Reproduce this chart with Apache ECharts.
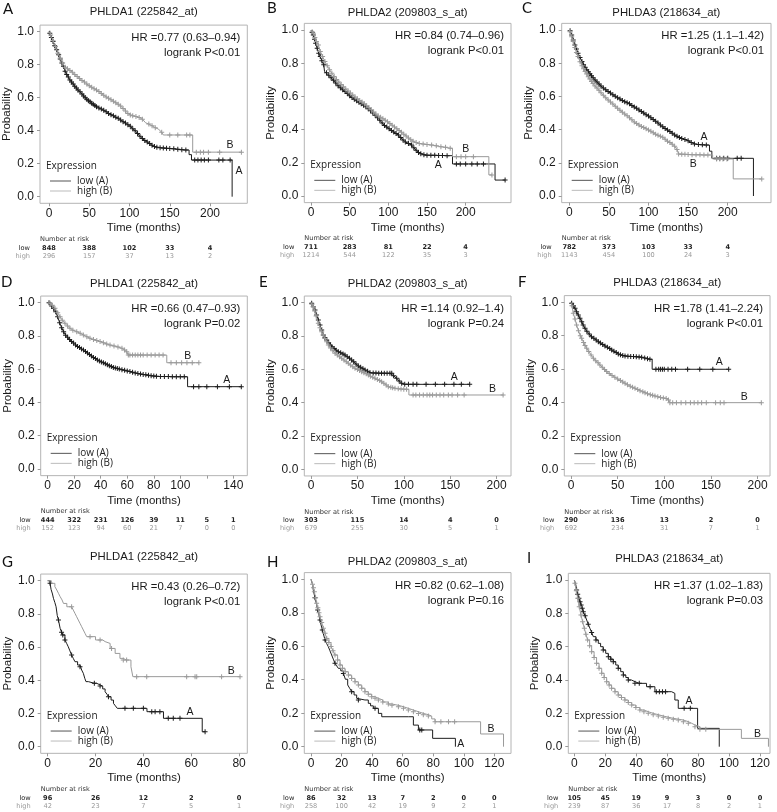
<!DOCTYPE html>
<html><head><meta charset="utf-8">
<script src="https://cdn.jsdelivr.net/npm/echarts@6/dist/echarts.min.js"></script>
<style>html,body{margin:0;padding:0;background:#fff}#c{width:777px;height:812px}</style>
</head><body><div id="c"></div>
<script>
// ---------------- data ----------------
const panelLetters = ['A','B','C','D','E','F','G','H','I'];
const titles = ['PHLDA1 (225842_at)','PHLDA2 (209803_s_at)','PHLDA3 (218634_at)',
                'PHLDA1 (225842_at)','PHLDA2 (209803_s_at)','PHLDA3 (218634_at)',
                'PHLDA1 (225842_at)','PHLDA2 (209803_s_at)','PHLDA3 (218634_at)'];
const hrTexts = ['HR =0.77 (0.63\u20130.94)','HR =0.84 (0.74\u20130.96)','HR =1.25 (1.1\u20131.42)',
                 'HR =0.66 (0.47\u20130.93)','HR =1.14 (0.92\u20131.4)','HR =1.78 (1.41\u20132.24)',
                 'HR =0.43 (0.26\u20130.72)','HR =0.82 (0.62\u20131.08)','HR =1.37 (1.02\u20131.83)'];
const pTexts = ['logrank P<0.01','logrank P<0.01','logrank P<0.01',
                'logrank P=0.02','logrank P=0.24','logrank P<0.01',
                'logrank P<0.01','logrank P=0.16','logrank P=0.03'];

const ticks200 = [0,50,100,150,200];
const ticksD = [0,20,40,60,80,100,120,140];
const tickLabelsD = [0,20,40,60,80,100,140];
const ticks80 = [0,20,40,60,80];
const ticks120 = [0,20,40,60,80,100,120];
const yTicks = [0,0.2,0.4,0.6,0.8,1.0];

const riskLowA=[848,388,102,33,4], riskHighA=[296,157,37,13,2];
const riskLowB=[711,283,81,22,4], riskHighB=[1214,544,122,35,3];
const riskLowC=[782,373,103,33,4], riskHighC=[1143,454,100,24,3];
const riskLowD=[444,322,231,126,39,11,5,1], riskHighD=[152,123,94,60,21,7,0,0];
const riskLowE=[303,115,14,4,0], riskHighE=[679,255,30,5,1];
const riskLowF=[290,136,13,2,0], riskHighF=[692,234,31,7,1];
const riskLowG=[96,26,12,2,0], riskHighG=[42,23,7,5,1];
const riskLowH=[86,32,13,7,2,0,0], riskHighH=[258,100,42,19,9,2,1];
const riskLowI=[105,45,19,9,3,0,0], riskHighI=[239,87,36,17,8,2,1];

// curve label positions [month, probability, text]
const curveLabelsA=[[225,0.31,'B'],[236,0.158,'A']];
const curveLabelsB=[[200,0.281,'B'],[164.7,0.187,'A']];
const curveLabelsC=[[170,0.357,'A'],[156.6,0.193,'B']];
const curveLabelsD=[[105.6,0.679,'B'],[135,0.535,'A']];
const curveLabelsE=[[154.4,0.552,'A'],[195.7,0.48,'B']];
const curveLabelsF=[[159,0.639,'A'],[185.7,0.435,'B']];
const curveLabelsG=[[76.7,0.456,'B'],[59.5,0.207,'A']];
const curveLabelsH=[[117.8,0.106,'B'],[98,0.016,'A']];
const curveLabelsI=[[74.1,0.274,'A'],[118.5,0.074,'B']];

// survival curves: [month, probability, censorMark(1/0)]
const lowA=[[0,1,0],[1,0.99,1],[3,0.965,1],[5,0.94,1],[7,0.915,1],[9.5,0.89,1],[12,0.86,1],[14,0.835,1],[16,0.81,1],[18,0.79,1],[20,0.76,1],[22,0.74,1],[24,0.725,1],[26,0.707,1],[28,0.695,1],[30,0.683,1],[32,0.67,1],[34,0.659,1],[36,0.647,1],[38.5,0.636,1],[41,0.622,1],[43,0.61,1],[45,0.6,1],[47,0.59,1],[49,0.582,1],[51,0.575,1],[53,0.567,1],[55,0.56,1],[57,0.552,1],[59,0.545,1],[62,0.538,1],[65,0.531,1],[68,0.524,1],[71,0.515,1],[74,0.505,1],[77,0.497,1],[80,0.49,1],[83,0.482,1],[86,0.475,1],[89,0.465,1],[92,0.455,1],[95,0.446,1],[98,0.436,1],[101,0.427,1],[104,0.412,1],[107,0.4,1],[110,0.383,1],[113,0.366,1],[116,0.352,1],[119,0.34,1],[122,0.331,1],[125,0.322,1],[128,0.312,1],[131,0.305,1],[134,0.3,1],[138,0.297,1],[142,0.295,1],[146,0.293,1],[150,0.292,1],[155,0.29,1],[160,0.287,1],[165,0.285,1],[170,0.283,1],[174,0.283,0],[174,0.255,0],[177,0.255,0],[177,0.222,0],[181,0.222,1],[185,0.222,1],[189,0.222,1],[193,0.222,1],[198,0.222,1],[211,0.222,1],[216,0.222,1],[225,0.222,1],[227.5,0.222,0],[227.5,0,0]];
const highA=[[0,1,0],[2,0.98,1],[5,0.945,1],[8,0.91,1],[11,0.87,1],[14,0.84,1],[17,0.81,1],[20,0.785,1],[23,0.775,1],[26,0.765,1],[29,0.755,1],[32,0.74,1],[35,0.728,1],[38,0.716,1],[41,0.705,1],[44,0.695,1],[47,0.683,1],[50,0.672,1],[53,0.664,1],[56,0.655,1],[59,0.646,1],[62,0.637,1],[65,0.625,1],[68,0.615,1],[71,0.605,1],[74,0.597,1],[77,0.588,1],[80,0.578,1],[83,0.569,1],[86,0.56,1],[89,0.55,1],[92,0.535,1],[95,0.52,1],[98,0.505,1],[101,0.495,1],[104,0.49,1],[108,0.486,1],[112,0.48,1],[116,0.47,1],[120,0.448,0],[124,0.44,1],[128,0.43,1],[132,0.418,1],[136,0.41,0],[140,0.39,1],[142,0.374,0],[150,0.374,1],[160,0.374,1],[171,0.374,1],[175,0.374,1],[178.5,0.374,0],[178.5,0.27,0],[183,0.27,1],[188,0.27,1],[192,0.27,1],[198,0.27,1],[212,0.27,1],[239,0.27,1]];

const lowB=[[0,1,0],[1.5,0.985,1],[3,0.97,1],[4.5,0.945,1],[6,0.92,1],[8,0.89,1],[10,0.86,1],[12,0.84,1],[14,0.815,1],[16.5,0.79,1],[17.5,0.79,0],[17.5,0.75,0],[20,0.743,1],[23,0.727,1],[26,0.712,1],[29,0.697,1],[32,0.68,1],[35,0.664,1],[38,0.652,1],[41,0.64,1],[44,0.629,1],[47,0.617,1],[50,0.604,1],[53,0.593,1],[56,0.583,1],[59,0.574,1],[62,0.565,1],[65,0.556,1],[68,0.547,1],[71,0.537,1],[74,0.525,1],[77,0.513,1],[80,0.5,1],[83,0.487,1],[86,0.472,1],[89,0.456,1],[92,0.44,1],[95,0.425,1],[98,0.415,1],[101,0.405,1],[104,0.395,1],[107,0.386,1],[110,0.376,1],[113,0.367,1],[116,0.352,1],[119,0.338,1],[122,0.326,1],[126,0.316,1],[130,0.307,1],[133,0.29,1],[136,0.275,1],[139,0.262,1],[142,0.255,1],[146,0.248,1],[150,0.246,1],[155,0.245,1],[160,0.245,1],[165,0.244,1],[170,0.244,1],[176,0.243,1],[183,0.243,0],[183,0.193,0],[188,0.193,1],[193,0.193,1],[200,0.193,1],[208,0.193,1],[215,0.193,1],[223,0.193,1],[238,0.193,0],[238,0.096,0],[251,0.096,1]];
const highB=[[0,1,0],[1.5,0.99,1],[3,0.98,1],[5,0.955,1],[7,0.93,1],[9.5,0.91,1],[12,0.87,1],[15,0.84,1],[18,0.81,1],[21,0.785,1],[24,0.76,1],[27,0.739,1],[30,0.72,1],[33,0.702,1],[36,0.686,1],[39,0.672,1],[42,0.658,1],[45,0.645,1],[48,0.632,1],[51,0.62,1],[54,0.609,1],[57,0.597,1],[60,0.586,1],[63,0.576,1],[66,0.566,1],[69,0.556,1],[72,0.544,1],[75,0.532,1],[78,0.519,1],[81,0.506,1],[84,0.494,1],[87,0.482,1],[90,0.474,1],[93,0.466,1],[96,0.457,1],[99,0.447,1],[102,0.436,1],[105,0.426,1],[108,0.416,1],[111,0.405,1],[114,0.395,1],[117,0.384,1],[120,0.372,1],[123,0.362,1],[126,0.35,1],[129,0.339,1],[132,0.33,1],[136,0.322,1],[140,0.316,1],[145,0.313,1],[150,0.31,1],[156,0.307,1],[162,0.302,1],[168,0.297,1],[174,0.293,1],[180,0.288,1],[183,0.287,0],[183,0.237,0],[188,0.237,1],[194,0.237,1],[200,0.237,1],[210,0.237,1],[230,0.237,0],[230,0.127,0],[234,0.127,1]];

const lowC=[[0,1,0],[1,0.995,1],[3,0.97,1],[5,0.94,1],[7,0.91,1],[9,0.885,1],[11,0.86,1],[13.5,0.835,1],[16,0.81,1],[18,0.79,1],[20,0.775,1],[22,0.76,1],[24,0.749,1],[26,0.737,1],[28,0.724,1],[30,0.712,1],[32.5,0.699,1],[35,0.687,1],[37.5,0.675,1],[40,0.662,1],[43,0.65,1],[46,0.64,1],[49,0.63,1],[52,0.62,1],[55,0.61,1],[58,0.601,1],[61,0.592,1],[64,0.584,1],[67,0.575,1],[70,0.568,1],[73,0.562,1],[76,0.555,1],[79,0.545,1],[82,0.536,1],[85,0.528,1],[88,0.518,1],[91,0.509,1],[94,0.5,1],[97,0.49,1],[100,0.482,1],[103,0.472,1],[106,0.461,1],[109,0.451,1],[112,0.44,1],[115,0.427,1],[118,0.417,1],[121,0.407,1],[124,0.397,1],[127,0.388,1],[130,0.378,1],[133,0.368,1],[136,0.36,1],[139,0.353,1],[142,0.347,1],[146,0.34,1],[150,0.333,1],[154,0.323,1],[158,0.314,1],[163,0.31,1],[168,0.308,1],[173,0.307,1],[177,0.307,0],[177,0.27,0],[180,0.27,0],[180,0.227,0],[186,0.227,1],[190,0.227,1],[195,0.227,1],[200,0.227,1],[212,0.227,1],[217,0.227,1],[232.5,0.227,0],[232.5,0,0]];
const highC=[[0,1,0],[1,0.99,1],[3,0.96,1],[5,0.93,1],[7,0.895,1],[9,0.865,1],[11,0.84,1],[13.5,0.809,1],[16,0.785,1],[18,0.767,1],[20,0.75,1],[22,0.735,1],[24,0.719,1],[26,0.705,1],[28,0.69,1],[30,0.677,1],[32.5,0.663,1],[35,0.65,1],[37.5,0.637,1],[40,0.622,1],[43,0.607,1],[46,0.592,1],[49,0.579,1],[52,0.567,1],[55,0.554,1],[58,0.541,1],[61,0.529,1],[64,0.516,1],[67,0.505,1],[70,0.494,1],[73,0.483,1],[76,0.472,1],[79,0.459,1],[82,0.446,1],[85,0.436,1],[88,0.427,1],[91,0.419,1],[94,0.412,1],[97,0.405,1],[100,0.398,1],[103,0.39,1],[106,0.381,1],[109,0.372,1],[112,0.366,1],[115,0.36,1],[118,0.354,1],[121,0.342,1],[124,0.33,1],[127,0.322,1],[130,0.312,1],[133,0.3,1],[136,0.28,1],[138,0.253,1],[142,0.252,1],[146,0.251,1],[150,0.25,1],[155,0.249,1],[160,0.248,1],[165,0.248,1],[170,0.247,1],[175,0.247,1],[181,0.247,0],[181,0.223,0],[186,0.223,1],[190,0.223,1],[194,0.223,1],[199,0.223,1],[207,0.223,0],[207,0.103,0],[243,0.103,1]];

const lowD=[[0,1,0],[1,1,1],[3,0.98,1],[4.5,0.965,1],[6,0.945,1],[7.5,0.915,1],[9,0.88,1],[10.5,0.85,1],[12,0.825,1],[13.5,0.805,1],[15,0.792,1],[16.5,0.778,1],[18,0.766,1],[19.5,0.757,1],[21,0.745,1],[22.5,0.737,1],[24,0.73,1],[25.5,0.722,1],[27,0.715,1],[28.5,0.706,1],[30,0.697,1],[31.5,0.688,1],[33,0.679,1],[34.5,0.671,1],[36,0.664,1],[37.5,0.656,1],[39,0.65,1],[40.5,0.644,1],[42,0.639,1],[43.5,0.633,1],[45,0.627,1],[46.5,0.621,1],[48,0.616,1],[49.5,0.611,1],[51,0.607,1],[52.5,0.604,1],[54,0.601,1],[56,0.597,1],[58,0.594,1],[60,0.59,1],[62,0.586,1],[64,0.582,1],[66,0.578,1],[68,0.574,1],[70,0.571,1],[72,0.568,1],[74,0.566,1],[76,0.563,1],[78,0.561,1],[80,0.559,1],[82,0.557,1],[85,0.556,1],[88,0.556,1],[91,0.556,1],[94,0.555,1],[97,0.555,1],[100,0.555,1],[103,0.555,1],[105.5,0.555,0],[105.5,0.495,0],[110,0.495,1],[114,0.495,1],[120,0.495,1],[128,0.495,1],[137,0.495,1],[146,0.495,1]];
const highD=[[0,1,0],[1.8,0.996,1],[3.5,0.985,1],[5.5,0.966,1],[7.5,0.94,1],[9.3,0.916,1],[11,0.895,1],[13,0.876,1],[15,0.86,1],[16.8,0.846,1],[19,0.835,1],[21.9,0.826,1],[24.5,0.816,1],[26.9,0.806,1],[29.5,0.796,1],[31.9,0.786,1],[34.5,0.779,1],[37,0.772,1],[39.5,0.766,1],[42,0.759,1],[44.5,0.752,1],[47,0.745,1],[50,0.74,1],[53,0.734,1],[56,0.726,1],[58,0.715,1],[59.6,0.705,1],[60.8,0.685,1],[62,0.685,1],[64,0.685,1],[66,0.685,1],[68,0.685,1],[70,0.685,1],[72,0.685,1],[75,0.685,1],[78,0.685,1],[81,0.685,1],[84,0.685,1],[87,0.685,1],[89.8,0.685,0],[89.8,0.639,0],[93,0.639,1],[97,0.639,1],[101,0.639,1],[105,0.639,1],[109,0.639,1],[114,0.639,1]];

const lowE=[[0,1,0],[0.7,0.996,1],[2.5,0.975,1],[4.3,0.956,1],[6,0.926,1],[7.9,0.896,1],[9.7,0.866,1],[11.5,0.836,1],[13.3,0.806,1],[15,0.79,1],[16.9,0.776,1],[19,0.76,1],[21,0.744,1],[22.3,0.736,1],[25,0.725,1],[27,0.715,1],[29.4,0.706,1],[32,0.699,1],[34.5,0.692,1],[36.6,0.686,1],[39,0.676,1],[41.5,0.666,1],[43.8,0.656,1],[46,0.645,1],[48.5,0.632,1],[51,0.62,1],[53.5,0.612,1],[56,0.603,1],[58.2,0.596,1],[61,0.588,1],[63.6,0.58,1],[67,0.578,1],[70,0.578,1],[73,0.577,1],[76,0.577,1],[79,0.577,1],[82,0.576,1],[85,0.576,1],[87,0.576,1],[89,0.561,1],[92.3,0.546,1],[95,0.53,1],[97.7,0.516,1],[101,0.51,1],[105,0.51,1],[110,0.51,1],[114,0.51,1],[124,0.51,1],[134,0.51,1],[144,0.51,1],[154,0.51,1],[162,0.51,1],[171,0.51,1]];
const highE=[[0,1,0],[1,0.99,1],[2.5,0.976,1],[4,0.95,1],[5.5,0.92,1],[7.9,0.876,1],[9.7,0.85,1],[11.5,0.826,1],[13.3,0.806,1],[15,0.785,1],[16.9,0.765,1],[18.7,0.746,1],[21,0.728,1],[23.5,0.712,1],[25.9,0.696,1],[28.3,0.686,1],[30.7,0.676,1],[33,0.666,1],[35.5,0.656,1],[38,0.646,1],[40.2,0.636,1],[42.5,0.626,1],[45,0.616,1],[47.4,0.606,1],[50,0.599,1],[52.3,0.593,1],[54.6,0.586,1],[57,0.579,1],[59.5,0.573,1],[61.8,0.566,1],[64,0.559,1],[66.5,0.553,1],[68.9,0.546,1],[71.5,0.539,1],[74,0.533,1],[76.1,0.526,1],[78.5,0.516,1],[81,0.506,1],[83.3,0.496,1],[86,0.492,1],[88,0.489,1],[90.5,0.486,1],[94,0.483,1],[97,0.482,1],[100,0.481,1],[103,0.48,1],[105.5,0.48,0],[105.5,0.446,0],[110,0.446,1],[113,0.446,1],[117,0.446,1],[121,0.446,1],[125,0.446,1],[128,0.446,1],[131,0.446,1],[135,0.446,1],[139,0.446,1],[143,0.446,1],[148,0.446,1],[152,0.446,1],[158,0.446,1],[165,0.446,1],[207,0.446,1]];

const lowF=[[0,1,0],[0.7,0.994,1],[2.5,0.98,1],[4.3,0.964,1],[6,0.944,1],[7.8,0.924,1],[9.6,0.904,1],[11.5,0.884,1],[13,0.864,1],[15,0.844,1],[17,0.826,1],[19.5,0.81,1],[22,0.794,1],[24.5,0.784,1],[27,0.774,1],[29.3,0.764,1],[31.5,0.756,1],[34,0.748,1],[36.4,0.739,1],[39,0.731,1],[41.5,0.723,1],[43.6,0.715,1],[46,0.707,1],[48.5,0.699,1],[50.7,0.691,1],[53,0.686,1],[55.5,0.682,1],[57.9,0.679,1],[61,0.677,1],[64,0.676,1],[67,0.675,1],[70,0.674,1],[73,0.673,1],[75.7,0.671,1],[79,0.667,1],[82,0.662,1],[84.6,0.659,1],[87,0.659,0],[87,0.599,0],[91,0.599,1],[94,0.599,1],[96,0.599,1],[98,0.599,1],[100,0.599,1],[104,0.599,1],[108,0.599,1],[112,0.599,1],[125,0.599,1],[138,0.599,1],[152,0.599,1],[169,0.599,1]];
const highF=[[0,1,0],[1,0.98,1],[2.5,0.934,1],[4.3,0.9,1],[6,0.864,1],[8,0.83,1],[10,0.8,1],[11.4,0.784,1],[13.5,0.76,1],[15,0.742,1],[16.8,0.725,1],[19,0.705,1],[21.5,0.685,1],[24,0.665,1],[26.5,0.65,1],[29,0.638,1],[31,0.625,1],[33.5,0.611,1],[36,0.598,1],[38.2,0.585,1],[41,0.573,1],[44,0.562,1],[47,0.551,1],[50,0.541,1],[53,0.532,1],[55.5,0.523,1],[57.9,0.515,1],[60.5,0.507,1],[63.5,0.498,1],[66,0.491,1],[68.6,0.485,1],[71.5,0.478,1],[74,0.471,1],[77,0.464,1],[79.3,0.459,1],[82,0.453,1],[85,0.447,1],[87.5,0.443,1],[90,0.439,1],[93,0.435,1],[96,0.43,1],[99,0.427,1],[102,0.424,1],[104.5,0.415,1],[106,0.399,1],[109,0.399,1],[113,0.399,1],[118,0.399,1],[123,0.399,1],[128,0.399,1],[132,0.399,1],[136,0.399,1],[140,0.399,1],[145,0.399,1],[155,0.399,1],[160,0.399,1],[164,0.399,1],[204,0.399,1]];

const lowG=[[0,1,0],[1,0.984,1],[1.4,0.948,0],[2,0.92,0],[2.4,0.894,0],[3,0.868,0],[3.5,0.843,0],[4,0.79,0],[4.5,0.763,1],[5.2,0.713,0],[5.8,0.69,1],[6.3,0.673,1],[7.2,0.643,1],[8,0.62,0],[8.6,0.602,0],[9.3,0.577,0],[10,0.552,1],[10.7,0.532,0],[11.4,0.512,0],[12.5,0.492,0],[13.5,0.482,1],[14.2,0.462,0],[14.9,0.442,0],[15.5,0.412,0],[16,0.392,0],[17,0.382,0],[19.5,0.382,1],[20.5,0.372,0],[21.9,0.365,1],[23,0.348,0],[24,0.331,0],[24.8,0.316,0],[25.4,0.301,1],[26.5,0.281,0],[27.5,0.261,0],[28.3,0.246,0],[29.1,0.231,0],[32.3,0.231,1],[35.8,0.231,1],[40,0.231,1],[41.5,0.211,0],[43.5,0.211,1],[44.9,0.211,1],[46.9,0.211,1],[48.4,0.171,0],[50.4,0.171,1],[52.5,0.171,1],[55.3,0.171,1],[64.6,0.09,0],[65.8,0.09,1]];
const highG=[[0,1,0],[1.5,0.984,0],[3,0.964,0],[3.8,0.944,0],[4.5,0.924,0],[5.2,0.904,0],[6,0.884,0],[6.6,0.863,0],[8,0.843,0],[10,0.843,1],[10.7,0.823,0],[11.4,0.803,0],[12.1,0.783,0],[12.8,0.763,0],[13.5,0.743,0],[14.2,0.723,0],[14.9,0.703,0],[15.6,0.683,0],[16.3,0.663,0],[17.7,0.663,1],[20,0.643,0],[21.9,0.643,1],[23,0.633,0],[24,0.622,0],[26.1,0.592,0],[26.7,0.592,1],[28.2,0.562,0],[30.2,0.532,0],[31.6,0.522,1],[33,0.522,1],[34.8,0.482,0],[35.6,0.422,0],[37.2,0.422,1],[41.4,0.422,1],[58.1,0.422,1],[61.6,0.422,1],[62.3,0.422,1],[72.7,0.422,1],[80.4,0.422,1]];

const lowH=[[0,1,0],[0.4,0.996,0],[1,0.97,0],[1.5,0.936,0],[2.2,0.906,0],[2.6,0.89,1],[3,0.876,0],[3.7,0.846,0],[4.4,0.817,1],[5.2,0.787,0],[5.9,0.757,1],[6.6,0.727,0],[7.4,0.697,1],[8.3,0.667,0],[9.2,0.637,1],[10.2,0.617,0],[11.3,0.598,0],[12.4,0.573,0],[13.5,0.548,0],[14.6,0.523,0],[15.7,0.498,1],[16.8,0.483,0],[17.9,0.468,0],[19.5,0.453,0],[21.2,0.438,1],[22.5,0.403,0],[24,0.369,0],[25.3,0.349,0],[26.6,0.329,1],[28.2,0.309,0],[29.9,0.289,0],[31,0.279,1],[35.3,0.279,0],[37.5,0.259,0],[39,0.244,0],[40.8,0.229,0],[41.9,0.229,1],[44.1,0.199,0],[46.3,0.179,0],[63.7,0.179,0],[67,0.129,0],[70.3,0.1,0],[71.2,0.1,1],[72.5,0.1,1],[79.6,0.05,0],[94.5,0,0]];
const highH=[[0,1,0],[0.4,0.996,0],[1,0.97,1],[1.6,0.95,1],[2.2,0.926,1],[3,0.89,1],[3.7,0.857,1],[4.5,0.83,1],[5.2,0.8,1],[5.9,0.777,1],[7,0.742,1],[8.1,0.707,1],[9.2,0.677,1],[10.3,0.647,1],[11.7,0.622,1],[13.1,0.598,1],[14.4,0.573,1],[15.7,0.548,1],[17.4,0.518,1],[19,0.488,1],[20.6,0.468,1],[22.3,0.448,1],[24.5,0.428,1],[26.6,0.408,1],[28.8,0.388,1],[31,0.369,1],[33.2,0.349,1],[35.3,0.329,1],[37.5,0.314,1],[39.7,0.299,1],[41.9,0.289,1],[44.1,0.279,1],[47,0.267,1],[50.6,0.255,1],[53,0.247,1],[57.2,0.239,1],[60.5,0.229,1],[63.7,0.219,1],[67,0.209,1],[70.3,0.199,1],[73.5,0.191,1],[76.8,0.183,1],[79,0.166,0],[81.2,0.149,1],[85,0.149,1],[90,0.149,1],[94,0.149,1],[111,0.076,0],[126,0,0]];

const lowI=[[0,1,0],[0.4,1,0],[1,0.97,0],[1.5,0.94,1],[2.2,0.915,1],[3,0.89,1],[3.7,0.87,1],[4.4,0.85,1],[5.1,0.83,1],[5.8,0.81,1],[7,0.785,1],[8,0.76,0],[9,0.735,1],[10.1,0.71,0],[11.2,0.685,1],[12.3,0.66,0],[14,0.64,1],[15.5,0.62,0],[17,0.6,0],[18.7,0.58,1],[20.3,0.56,0],[22,0.54,1],[23.6,0.525,1],[25.2,0.51,1],[26.8,0.49,0],[28.4,0.47,1],[30,0.45,0],[31.7,0.43,1],[33.3,0.415,0],[34.9,0.4,1],[37,0.39,0],[39.2,0.38,1],[42,0.38,1],[46.7,0.36,0],[49,0.36,1],[52.1,0.33,0],[53,0.33,1],[55,0.33,1],[57,0.33,1],[59,0.33,1],[62.9,0.32,0],[65,0.28,0],[67.2,0.23,0],[71,0.23,1],[75,0.23,1],[79.7,0.11,0],[93.7,0,0]];
const highI=[[0,1,0],[0.4,0.98,1],[1.3,0.935,1],[2.2,0.89,1],[3.2,0.84,1],[4.3,0.79,1],[5.4,0.75,1],[6.5,0.71,1],[7.5,0.675,1],[8.6,0.64,1],[9.9,0.605,1],[11.2,0.57,1],[12.8,0.535,1],[14.4,0.5,1],[16,0.47,1],[17.7,0.44,1],[19.3,0.415,1],[20.9,0.39,1],[22.5,0.37,1],[24.1,0.35,1],[26.3,0.33,1],[28.4,0.31,1],[30.5,0.295,1],[32.7,0.28,1],[34.9,0.265,1],[37.1,0.25,1],[39.8,0.235,1],[42.4,0.22,1],[45,0.21,1],[47.8,0.2,1],[51,0.192,1],[54.3,0.184,1],[57.5,0.177,1],[60.7,0.17,1],[64,0.165,1],[67.2,0.16,1],[70.5,0.15,1],[73.7,0.14,1],[76,0.13,0],[78,0.12,1],[81.2,0.104,1],[85,0.104,1],[108,0.05,0],[125.5,0,0]];

// ---------------- layout (pixels) ----------------
// [x0px, pxPerMonth, y(1.0)px, y(0.0)px, frameLeft, frameRight, titleY, letterX, letterY]
const LAYOUT = [
  [49, 0.805, 31.7, 196.7, 40, 247.3, 12, 3, 9],
  [311, 0.7733, 30, 196, 304.3, 511, 13, 267, 8.5],
  [569.3, 0.792, 30, 196, 561.7, 771, 13, 522, 8.5],
  [47.7, 1.326, 302.7, 469, 40.7, 247.3, 284, 1, 282],
  [311, 0.928, 302.7, 469.3, 304.3, 511, 284, 259, 282.5],
  [571, 0.933, 302.3, 469.3, 564.3, 770, 283, 518, 282],
  [47.7, 2.392, 580.7, 746.7, 40.7, 247.3, 557, 2, 562],
  [311, 1.528, 579.3, 746.7, 304.3, 511, 562, 267, 562.5],
  [574.3, 1.547, 580, 746.7, 568.3, 770, 559, 527, 558.5]
];
const lows = [lowA,lowB,lowC,lowD,lowE,lowF,lowG,lowH,lowI];
const highs = [highA,highB,highC,highD,highE,highF,highG,highH,highI];
const tickSets = [ticks200,ticks200,ticks200,ticksD,ticks200,ticks200,ticks80,ticks120,ticks120];
const tickLabelSets = [ticks200,ticks200,ticks200,tickLabelsD,ticks200,ticks200,ticks80,ticks120,ticks120];
const riskLows = [riskLowA,riskLowB,riskLowC,riskLowD,riskLowE,riskLowF,riskLowG,riskLowH,riskLowI];
const riskHighs = [riskHighA,riskHighB,riskHighC,riskHighD,riskHighE,riskHighF,riskHighG,riskHighH,riskHighI];
const curveLabels = [curveLabelsA,curveLabelsB,curveLabelsC,curveLabelsD,curveLabelsE,curveLabelsF,curveLabelsG,curveLabelsH,curveLabelsI];
const STEP = [false,false,false,false,false,false,true,true,true];

const PLUS = 'path://M2,0h1v2h2v1h-2v2h-1v-2h-2v-1h2z';
const LOW_C = '#1c1c1c', HIGH_C = '#9a9a9a';
const SANS = '"Liberation Sans", Arial, sans-serif';

function toItems(arr){
  return arr.map(p => p[2] ? {value:[p[0],p[1]]} : {value:[p[0],p[1]], symbol:'none'});
}

const chart = echarts.init(document.getElementById('c'), null, {renderer:'canvas'});
const option = {animation:false, backgroundColor:'#fff', grid:[], xAxis:[], yAxis:[], series:[]};
const geo = [];
LAYOUT.forEach((g,i)=>{
  const [x0,xs,y1,y0,L,R] = g;
  const s = y0 - y1, top = y1 - 0.04*s, bottom = y0 + 0.04*s;
  geo.push({L,R,top,bottom,y1,y0});
  option.grid.push({left:L, top:top, width:R-L, height:bottom-top, show:true,
    borderColor:'#b4b4b4', borderWidth:1, backgroundColor:'rgba(0,0,0,0)'});
  option.xAxis.push({type:'value', gridIndex:i, min:(L-x0)/xs, max:(R-x0)/xs,
    axisLine:{show:false, onZero:false}, splitLine:{show:false},
    axisTick:{show:true, customValues:tickSets[i], length:3, lineStyle:{color:'#999'}},
    axisLabel:{customValues:tickLabelSets[i], margin:4, fontSize:12, color:'#1a1a1a', fontFamily:SANS}});
  option.yAxis.push({type:'value', gridIndex:i, min:-0.04, max:1.04,
    axisLine:{show:false, onZero:false}, splitLine:{show:false},
    axisTick:{show:true, customValues:yTicks, length:3, lineStyle:{color:'#999'}},
    axisLabel:{customValues:yTicks, margin:6, fontSize:12, color:'#1a1a1a', fontFamily:SANS,
      formatter:v=>v.toFixed(1)}});
  [[lows[i],LOW_C],[highs[i],HIGH_C]].forEach(([arr,col],k)=>{
    option.series.push({type:'line', xAxisIndex:i, yAxisIndex:i, data:toItems(arr),
      step: STEP[i] ? 'end' : false, symbol:PLUS, symbolSize:5, showSymbol:true,
      lineStyle:{color:col, width:1}, itemStyle:{color:col}, silent:true, z:2+k,
      emphasis:{disabled:true}});
  });
});
chart.setOption(option);

const graphic = [];
function txt(x,y,text,opt){
  graphic.push(Object.assign({type:'text', x:x, y:y, silent:true, z:100,
    style:Object.assign({text:text, fill:'#1a1a1a', font:'11px '+SANS, align:'left', verticalAlign:'middle'}, opt||{})}));
}
LAYOUT.forEach((g,i)=>{
  const {L,R,top,bottom,y1,y0} = geo[i];
  const titleY = g[6], lx = g[7], ly = g[8];
  txt(lx, ly, panelLetters[i], {font:'15px Lato, "Open Sans", sans-serif', fill:'#111'});
  txt((L+R)/2, titleY, titles[i], {font:'11.3px '+SANS, align:'center'});
  txt(R-7, top+13, hrTexts[i], {font:'11.3px '+SANS, align:'right'});
  txt(R-7, top+28, pTexts[i], {font:'11.3px '+SANS, align:'right'});
  graphic.push({type:'text', x:L-33, y:(y1+y0)/2, rotation:Math.PI/2, silent:true, z:100,
    style:{text:'Probability', x:0, y:0, align:'center', verticalAlign:'middle', fill:'#1a1a1a', font:'11.5px '+SANS}});
  txt((L+R)/2, bottom+24.7, 'Time (months)', {font:'11.5px '+SANS, align:'center'});
  // legend
  txt(L+6, bottom-37.6, 'Expression', {font:'10px "Open Sans", sans-serif', fill:'#222'});
  graphic.push({type:'line', silent:true, z:100, shape:{x1:L+10, y1:bottom-22.3, x2:L+31, y2:bottom-22.3}, style:{stroke:'#555', lineWidth:1}});
  graphic.push({type:'line', silent:true, z:100, shape:{x1:L+10, y1:bottom-12.3, x2:L+31, y2:bottom-12.3}, style:{stroke:'#bbb', lineWidth:1}});
  txt(L+37, bottom-22.3, 'low (A)', {font:'10px "Open Sans", sans-serif', fill:'#222'});
  txt(L+37, bottom-12.3, 'high (B)', {font:'10px "Open Sans", sans-serif', fill:'#222'});
  // number at risk
  txt(L, bottom+36, 'Number at risk', {font:'6.6px "DejaVu Sans", sans-serif', fill:'#333'});
  txt(L-10, bottom+44.7, 'low', {font:'6.6px "DejaVu Sans", sans-serif', fill:'#222', align:'right'});
  txt(L-10, bottom+52.7, 'high', {font:'6.6px "DejaVu Sans", sans-serif', fill:'#999', align:'right'});
  tickSets[i].forEach((t,k)=>{
    const px = chart.convertToPixel({gridIndex:i}, [t,0])[0];
    txt(px, bottom+44.7, String(riskLows[i][k]), {font:'bold 6.6px "DejaVu Sans", sans-serif', fill:'#222', align:'center'});
    txt(px, bottom+52.7, String(riskHighs[i][k]), {font:'6.6px "DejaVu Sans", sans-serif', fill:'#999', align:'center'});
  });
  curveLabels[i].forEach(c=>{
    const p = chart.convertToPixel({gridIndex:i}, [c[0],c[1]]);
    txt(p[0], p[1], c[2], {font:'10.5px '+SANS, align:'center'});
  });
});
chart.setOption({graphic:graphic});
</script></body></html>
